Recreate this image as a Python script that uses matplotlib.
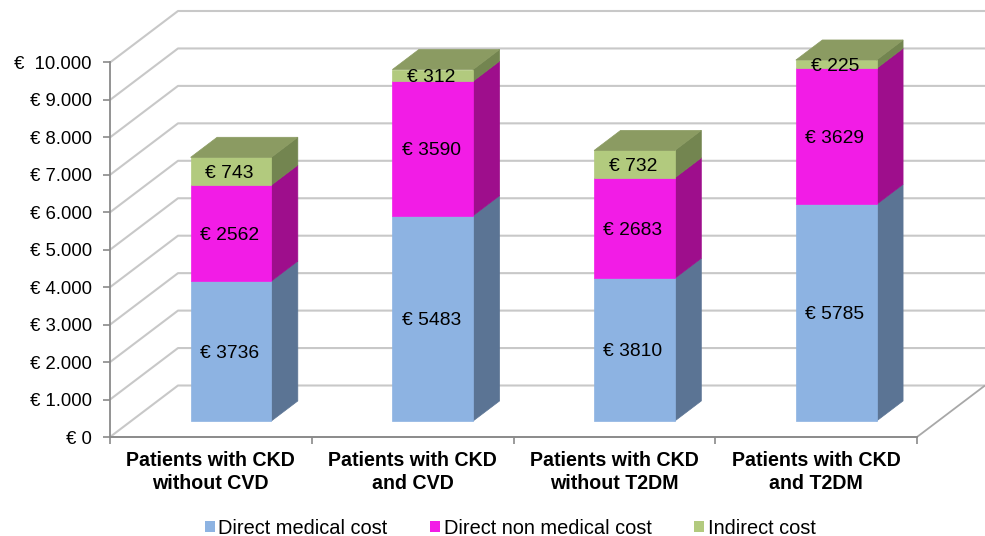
import matplotlib
matplotlib.use("Agg")
import matplotlib.pyplot as plt
from matplotlib.patches import Polygon, Patch
from matplotlib.transforms import IdentityTransform

plt.rcParams['font.family'] = ['Liberation Sans', 'DejaVu Sans']

categories = ["Patients with CKD\nwithout CVD", "Patients with CKD\nand CVD",
              "Patients with CKD\nwithout T2DM", "Patients with CKD\nand T2DM"]
direct_medical = [3736, 5483, 3810, 5785]
direct_non_medical = [2562, 3590, 2683, 3629]
indirect = [743, 312, 732, 225]
series_names = ["Direct medical cost", "Direct non medical cost", "Indirect cost"]
y_ticks = [0, 1000, 2000, 3000, 4000, 5000, 6000, 7000, 8000, 9000, 10000]
y_labels = ["€ 0", "€ 1.000", "€ 2.000", "€ 3.000", "€ 4.000", "€ 5.000",
            "€ 6.000", "€ 7.000", "€ 8.000", "€ 9.000", "€  10.000"]

front_colors = ["#8DB3E2", "#F21CE6", "#B2CA7E"]
side_colors = ["#5B7494", "#9E0E8C", "#738550"]
top_color = "#8B9B62"
GRID = "#C8C8C8"
AXIS = "#8A8A8A"

W, H = 985, 536
fig = plt.figure(figsize=(W / 100, H / 100), dpi=100, facecolor="white")
L, R, T, B = 110, 917, 62.5, 437
ax = fig.add_axes([L / W, 1 - B / H, (R - L) / W, (B - T) / H])
ax.set_xlim(0, 4)
ax.set_ylim(0, 10000)
ax.patch.set_alpha(0)

DEPTH_X, DEPTH_Y = 68, 51.5
BAR_FRONT, BAR_BACK = 0.31, 0.70
HALF = 0.2


def proj(x, y, d):
    px, py = ax.transData.transform((x, y))
    return (px + DEPTH_X * d, py + DEPTH_Y * d)


ident = IdentityTransform()


def poly(points, color, z):
    ax.add_patch(Polygon(points, closed=True, facecolor=color, edgecolor=color, lw=0.5,
                         transform=ident, zorder=z, clip_on=False))


def line(points, color, lw, z):
    xs, ys = zip(*points)
    ax.plot(xs, ys, color=color, lw=lw, transform=ident, zorder=z, clip_on=False,
            solid_capstyle="butt")


# walls: gridlines run along the side wall then along the back wall
x_far = (W - DEPTH_X - L) / ((R - L) / 4)
for t in y_ticks:
    line([proj(0, t, 0), proj(0, t, 1), proj(x_far, t, 1)], GRID, 1.5, 1)
line([proj(0, 0, 0), proj(4, 0, 0), proj(4, 0, 1), proj(x_far, 0, 1)], "#A8A8A8", 1.3, 1.5)

# bars
for i in range(4):
    base = 0
    c = i + 0.495
    stack = [direct_medical[i], direct_non_medical[i], indirect[i]]
    for j, v in enumerate(stack):
        lo, hi = base, base + v
        x0, x1 = c - HALF, c + HALF
        poly([proj(x1, lo, BAR_FRONT), proj(x1, lo, BAR_BACK),
              proj(x1, hi, BAR_BACK), proj(x1, hi, BAR_FRONT)], side_colors[j], 3)
        poly([proj(x0, lo, BAR_FRONT), proj(x1, lo, BAR_FRONT),
              proj(x1, hi, BAR_FRONT), proj(x0, hi, BAR_FRONT)], front_colors[j], 4)
        px, py = proj(c, (lo + hi) / 2, BAR_FRONT)
        ax.text(px - 1.5, py, f"€ {v}", transform=ident, ha="center", va="center_baseline",
                fontsize=13.9, color="black", zorder=6)
        base = hi
    poly([proj(x0, base, BAR_FRONT), proj(x1, base, BAR_FRONT),
          proj(x1, base, BAR_BACK), proj(x0, base, BAR_BACK)], top_color, 5)

# axes
for s in ("top", "right"):
    ax.spines[s].set_visible(False)
for s in ("left", "bottom"):
    ax.spines[s].set_color(AXIS)
    ax.spines[s].set_linewidth(1.3)
ax.set_yticks(y_ticks)
ax.set_yticklabels(y_labels, fontsize=13.3, color="black")
ax.tick_params(axis="y", length=5, width=1.2, color=AXIS, pad=8)
ax.set_xticks([0, 1, 2, 3, 4])
ax.set_xticklabels([])
ax.tick_params(axis="x", which="major", length=5, width=1.2, color=AXIS)
ax.set_xticks([0.5, 1.5, 2.5, 3.5], minor=True)
ax.set_xticklabels(categories, minor=True, fontsize=14.1, fontweight="bold",
                   linespacing=1.25, color="black")
ax.tick_params(axis="x", which="minor", length=0, pad=10)

handles = [Patch(facecolor=c, edgecolor="none") for c in front_colors]
fig.legend(handles, series_names, loc="center", bbox_to_anchor=(510 / W, 1 - 528 / H),
           ncol=3, frameon=False, fontsize=14.4, handlelength=0.5, handleheight=0.5,
           handletextpad=0.2, columnspacing=2.1, borderpad=0)

fig.savefig("out.png", dpi=100, facecolor="white")
